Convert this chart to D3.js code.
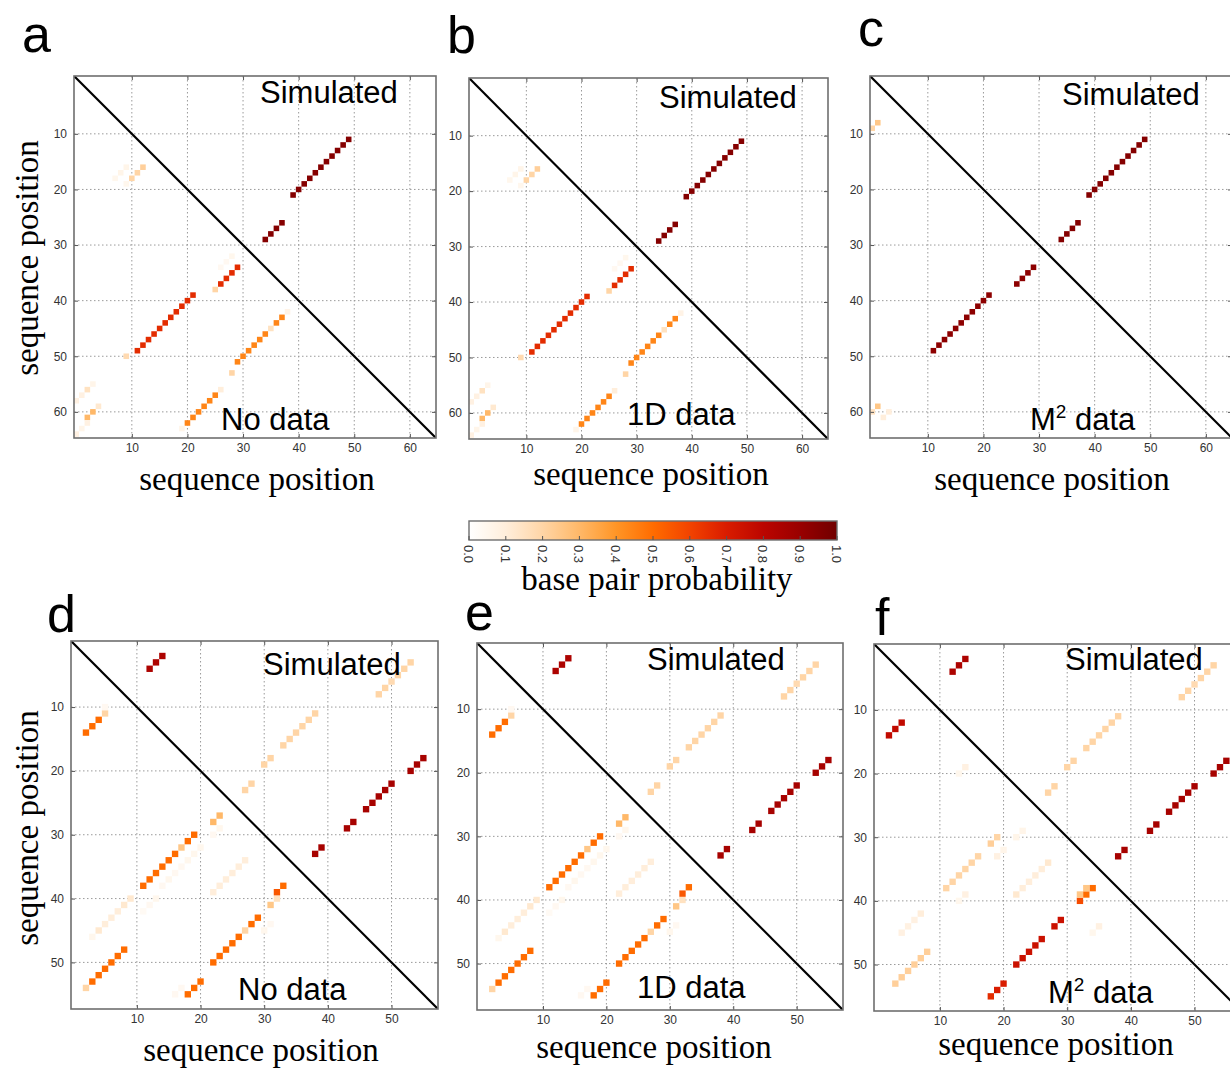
<!DOCTYPE html>
<html lang="en">
<head>
<meta charset="utf-8">
<title>Base pair probability maps</title>
<script src="https://cdn.jsdelivr.net/npm/d3@7"></script>
<style>
  body { margin: 0; background: #fff; }
  .tick text { font-family: "Liberation Sans", Arial, sans-serif; font-size: 12px; fill: #333; }
  .tick line { stroke: #555; }
  .serif { font-family: "Liberation Serif", "Times New Roman", serif; }
  .sans { font-family: "Liberation Sans", Arial, sans-serif; }
</style>
</head>
<body>
<div id="chart"></div>
<script>
// cells are [x, y, probability]
// upper triangle, top row (a-c)
const simTop = [
  [39,21,.95],[40,20,.95],[41,19,.95],[42,18,.95],[43,17,.95],[44,16,.95],
  [45,15,.95],[46,14,.95],[47,13,.95],[48,12,.95],[49,11,.95],
  [34,29,.95],[35,28,.95],[36,27,.95],[37,26,.95]
];
// lower triangle, a (no data) and b (1D data) look the same
const predNoDataTop = [
  [7,18,.05],[8,17,.06],[9,16,.06],[9,19,.05],[10,18,.2],[11,17,.2],[12,16,.22],
  [9,50,.18],
  [11,49,.66],[12,48,.66],[13,47,.66],[14,46,.66],[15,45,.66],[16,44,.66],
  [17,43,.66],[18,42,.66],[19,41,.66],[20,40,.66],[21,39,.66],
  [25,38,.2],[26,37,.66],[27,36,.66],[28,35,.66],[29,34,.66],
  [26,34,.04],[27,33,.04],[28,32,.05],
  [29,51,.44],[30,50,.44],[31,49,.44],[32,48,.44],[33,47,.44],[34,46,.44],
  [35,45,.15],[36,44,.44],[37,43,.44],[38,42,.07],
  [28,53,.2],[26,56,.1],
  [20,62,.44],[21,61,.44],[22,60,.44],[23,59,.44],[24,58,.44],[25,57,.44],[19,63,.06],
  [0,58,.08],[1,57,.08],[2,56,.15],[3,55,.06],
  [2,61,.3],[3,60,.3],[4,59,.12],[0,64,.08],[1,63,.06],[2,62,.08]
];
const pred1DTop = predNoDataTop;
const predM2Top = [
  [1,8,.25],[0,9,.2],
  [11,49,.93],[12,48,.93],[13,47,.93],[14,46,.93],[15,45,.93],[16,44,.93],
  [17,43,.93],[18,42,.93],[19,41,.93],[20,40,.93],[21,39,.93],
  [26,37,.93],[27,36,.93],[28,35,.93],[29,34,.93],
  [1,59,.25],[0,60,.15],[2,61,.1],[3,60,.1]
];

// upper triangle, bottom row (d-f)
const simBottom = [
  [12,4,.84],[13,3,.84],[14,2,.84],
  [48,8,.2],[49,7,.2],[50,6,.18],[51,5,.2],[52,4,.2],[53,3,.2],
  [33,16,.2],[34,15,.2],[35,14,.2],[36,13,.2],[37,12,.2],[38,11,.2],
  [30,19,.2],[31,18,.2],[27,23,.2],[28,22,.2],
  [38,33,.86],[39,32,.86],[43,29,.86],[44,28,.86],
  [46,26,.86],[47,25,.86],[48,24,.86],[49,23,.86],[50,22,.86],
  [53,20,.86],[54,19,.86],[55,18,.86]
];
const predNoDataBottom = [
  [2,14,.5],[3,13,.5],[4,12,.5],[5,11,.2],[5,10,.04],
  [22,28,.3],[23,27,.3],[22,30,.04],[23,29,.05],
  [11,38,.5],[12,37,.5],[13,36,.5],[14,35,.5],[15,34,.5],[16,33,.5],
  [17,32,.25],[18,31,.5],[19,30,.5],
  [20,32,.05],[19,33,.05],[18,34,.05],[17,35,.04],[16,36,.04],[15,37,.05],[14,38,.04],
  [13,40,.05],[12,41,.04],[11,42,.03],
  [9,40,.12],[8,41,.12],[7,42,.1],[6,43,.1],[5,44,.1],[4,45,.12],[3,46,.05],
  [8,48,.5],[7,49,.5],[6,50,.5],[5,51,.5],[4,52,.5],[3,53,.5],[2,54,.2],
  [20,53,.5],[19,54,.5],[18,55,.5],[17,54,.04],[16,55,.04],
  [29,43,.5],[28,44,.5],[27,45,.2],[26,46,.5],[25,47,.5],[24,48,.5],[23,49,.5],[22,50,.5],
  [30,45,.05],[31,44,.04],
  [22,39,.1],[23,38,.1],[24,37,.1],[25,36,.1],[26,35,.1],[27,34,.1],
  [31,41,.25],[32,40,.15],[32,39,.55],[33,38,.5]
];
const pred1DBottom = predNoDataBottom;
const predM2Bottom = [
  [2,14,.78],[3,13,.78],[4,12,.78],
  [13,20,.05],[14,19,.08],
  [11,38,.2],[12,37,.2],[13,36,.2],[14,35,.2],[15,34,.2],[16,33,.2],[18,31,.22],[19,30,.2],
  [19,33,.08],[20,32,.06],[22,30,.06],[23,29,.06],[13,40,.05],[14,39,.08],
  [22,39,.12],[23,38,.1],[24,37,.1],[25,36,.1],[26,35,.1],[27,34,.12],
  [32,40,.58],[33,39,.5],[34,38,.5],[32,39,.25],[33,38,.25],
  [34,45,.05],[35,44,.08],
  [28,44,.75],[29,43,.75],[22,50,.75],[23,49,.75],[24,48,.75],[25,47,.75],[26,46,.75],
  [18,55,.66],[19,54,.7],[20,53,.7],
  [3,53,.22],[4,52,.22],[5,51,.22],[6,50,.22],[7,49,.22],[8,48,.22],
  [4,45,.08],[5,44,.08],[6,43,.08],[7,42,.1]
];

const ticksTop = [10, 20, 30, 40, 50, 60];
const ticksBottom = [10, 20, 30, 40, 50];
const cbarTicks = [0, .1, .2, .3, .4, .5, .6, .7, .8, .9, 1];

const cmap = d3.scaleLinear()
  .domain(cbarTicks)
  .range(['#ffffff', '#ffeedb', '#ffd5a6', '#ffb868', '#ff9526', '#ff6c00',
          '#f24300', '#d91c00', '#bb0500', '#990000', '#700000']);

const W = 1230, H = 1070;
const svg = d3.select('#chart').append('svg')
  .attr('width', W).attr('height', H);

const panels = [
  {letter: 'a', lx: 22, ly: 52, box: [74, 76, 436, 438], dom: [-0.4, 64.7], ticks: ticksTop,
   sim: simTop, pred: predNoDataTop, tag: 'No data', simPos: [260, 103], tagPos: [221, 430],
   xlab: [257, 490], ylab: [38, 258]},
  {letter: 'b', lx: 447, ly: 53, box: [469, 78, 828, 439], dom: [-0.4, 64.7], ticks: ticksTop,
   sim: simTop, pred: pred1DTop, tag: '1D data', simPos: [659, 108], tagPos: [627, 425],
   xlab: [651, 485]},
  {letter: 'c', lx: 858, ly: 46, box: [870, 76, 1232, 438], dom: [-0.4, 64.7], ticks: ticksTop,
   sim: simTop, pred: predM2Top, tag: 'M2', simPos: [1062, 105], tagPos: [1030, 430],
   xlab: [1052, 490]},
  {letter: 'd', lx: 47, ly: 632, box: [71, 641, 438, 1009], dom: [-0.35, 57.3], ticks: ticksBottom,
   sim: simBottom, pred: predNoDataBottom, tag: 'No data', simPos: [263, 675], tagPos: [238, 1000],
   xlab: [261, 1061], ylab: [38, 828]},
  {letter: 'e', lx: 465, ly: 630, box: [477, 643, 843, 1010], dom: [-0.4, 57.3], ticks: ticksBottom,
   sim: simBottom, pred: pred1DBottom, tag: '1D data', simPos: [647, 670], tagPos: [637, 998],
   xlab: [654, 1058]},
  {letter: 'f', lx: 875, ly: 635, box: [874, 644, 1241, 1011], dom: [-0.35, 57.3], ticks: ticksBottom,
   sim: simBottom, pred: predM2Bottom, tag: 'M2', simPos: [1065, 670], tagPos: [1048, 1003],
   xlab: [1056, 1055]}
];

panels.forEach((p, idx) => {
  const [x0, y0, x1, y1] = p.box;
  const xs = d3.scaleLinear().domain(p.dom).range([x0, x1]);
  const ys = d3.scaleLinear().domain(p.dom).range([y0, y1]);
  const g = svg.append('g').attr('class', 'panel');

  g.append('clipPath').attr('id', `clip${idx}`)
    .append('rect').attr('x', x0).attr('y', y0).attr('width', x1 - x0).attr('height', y1 - y0);

  const inner = g.append('g').attr('clip-path', `url(#clip${idx})`);

  // dotted grid
  inner.selectAll('line.gx').data(p.ticks).join('line')
    .attr('x1', d => xs(d)).attr('x2', d => xs(d)).attr('y1', y0).attr('y2', y1)
    .attr('stroke', '#9a9a9a').attr('stroke-width', 1).attr('stroke-dasharray', '1.5,2.5');
  inner.selectAll('line.gy').data(p.ticks).join('line')
    .attr('y1', d => ys(d)).attr('y2', d => ys(d)).attr('x1', x0).attr('x2', x1)
    .attr('stroke', '#9a9a9a').attr('stroke-width', 1).attr('stroke-dasharray', '1.5,2.5');

  // probability cells
  const cw = xs(1) - xs(0), ch = ys(1) - ys(0);
  inner.selectAll('rect.cell').data(p.sim.concat(p.pred)).join('rect')
    .attr('class', 'cell')
    .attr('x', d => xs(d[0] - 0.5)).attr('y', d => ys(d[1] - 0.5))
    .attr('width', cw).attr('height', ch)
    .attr('fill', d => cmap(d[2]));

  // diagonal
  inner.append('line')
    .attr('x1', xs(p.dom[0])).attr('y1', ys(p.dom[0]))
    .attr('x2', xs(p.dom[1])).attr('y2', ys(p.dom[1]))
    .attr('stroke', '#000').attr('stroke-width', 2.2);

  // axes with inward ticks
  g.append('g').attr('transform', `translate(0,${y1})`)
    .call(d3.axisBottom(xs).tickValues(p.ticks).tickSize(-4).tickPadding(5))
    .call(a => a.select('.domain').remove());
  g.append('g').attr('transform', `translate(${x0},0)`)
    .call(d3.axisLeft(ys).tickValues(p.ticks).tickSize(-4).tickPadding(7))
    .call(a => a.select('.domain').remove());
  g.append('g').attr('transform', `translate(0,${y0})`)
    .call(d3.axisTop(xs).tickValues(p.ticks).tickSize(-4).tickFormat(''))
    .call(a => a.select('.domain').remove());
  g.append('g').attr('transform', `translate(${x1},0)`)
    .call(d3.axisRight(ys).tickValues(p.ticks).tickSize(-4).tickFormat(''))
    .call(a => a.select('.domain').remove());

  // frame
  g.append('rect').attr('x', x0).attr('y', y0).attr('width', x1 - x0).attr('height', y1 - y0)
    .attr('fill', 'none').attr('stroke', '#6e6e6e').attr('stroke-width', 1.6);

  // texts
  g.append('text').attr('class', 'sans').attr('x', p.lx).attr('y', p.ly)
    .attr('font-size', 52).text(p.letter);
  g.append('text').attr('class', 'sans').attr('x', p.simPos[0]).attr('y', p.simPos[1])
    .attr('font-size', 31).text('Simulated');
  const tag = g.append('text').attr('class', 'sans').attr('x', p.tagPos[0]).attr('y', p.tagPos[1])
    .attr('font-size', 31);
  if (p.tag === 'M2') {
    tag.append('tspan').text('M');
    tag.append('tspan').attr('font-size', 19).attr('dy', -12).text('2');
    tag.append('tspan').attr('dy', 12).text(' data');
  } else {
    tag.text(p.tag);
  }
  g.append('text').attr('class', 'serif').attr('x', p.xlab[0]).attr('y', p.xlab[1])
    .attr('text-anchor', 'middle').attr('font-size', 33).text('sequence position');
  if (p.ylab) {
    g.append('text').attr('class', 'serif')
      .attr('transform', `translate(${p.ylab[0]},${p.ylab[1]}) rotate(-90)`)
      .attr('text-anchor', 'middle').attr('font-size', 33).text('sequence position');
  }
});

// colorbar
const cb = {x0: 469, x1: 837, y0: 521, y1: 540};
const cbScale = d3.scaleLinear().domain([0, 1]).range([cb.x0, cb.x1]);
const grad = svg.append('defs').append('linearGradient').attr('id', 'cbgrad');
grad.selectAll('stop').data(d3.range(0, 1.0001, 0.05)).join('stop')
  .attr('offset', d => `${d * 100}%`).attr('stop-color', d => cmap(d));
svg.append('rect').attr('x', cb.x0).attr('y', cb.y0)
  .attr('width', cb.x1 - cb.x0).attr('height', cb.y1 - cb.y0)
  .attr('fill', 'url(#cbgrad)').attr('stroke', '#6e6e6e').attr('stroke-width', 1.4);
svg.selectAll('line.cbt').data(cbarTicks).join('line')
  .attr('x1', d => cbScale(d)).attr('x2', d => cbScale(d))
  .attr('y1', cb.y1).attr('y2', cb.y1 - 4).attr('stroke', '#555');
svg.selectAll('text.cbl').data(cbarTicks).join('text')
  .attr('class', 'sans')
  .attr('transform', d => `translate(${cbScale(d) - 5},${cb.y1 + 5}) rotate(90)`)
  .attr('font-size', 13).attr('fill', '#333')
  .text(d => d3.format('.1f')(d));
svg.append('text').attr('class', 'serif').attr('x', 657).attr('y', 590)
  .attr('text-anchor', 'middle').attr('font-size', 33).text('base pair probability');
</script>
</body>
</html>
